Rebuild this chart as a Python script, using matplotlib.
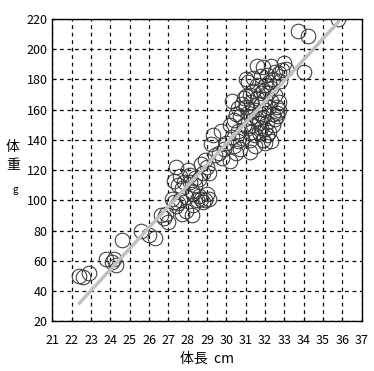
import matplotlib
matplotlib.use('Agg')
import matplotlib.pyplot as plt

plt.rcParams['font.family'] = ['Noto Sans CJK JP', 'DejaVu Sans']

# 体長 cm
length = [22.4, 22.6, 22.9, 23.8, 24.1, 24.2, 24.3, 24.6, 25.6, 26.0, 26.3,
          26.6, 26.8, 27.0, 26.9,
          27.2, 27.3, 27.4, 27.5, 27.6, 27.4, 27.3, 27.5, 27.6, 27.7, 27.7, 27.9,
          28.0, 28.1, 28.2, 28.1, 28.2, 28.3, 28.4, 28.5, 28.6, 28.7, 28.8, 28.9,
          29.0, 28.6, 28.8, 28.7, 28.9, 29.0, 29.1, 28.4, 27.9, 27.8, 28.3, 29.1,
          29.3, 29.2, 29.4, 29.7, 29.6, 29.8, 30.2, 29.9, 30.0, 30.3, 30.4, 30.5,
          30.6, 30.2, 30.3, 30.4, 30.5, 30.6, 30.7, 30.8, 30.6, 30.7,
          31.0, 31.1, 31.0, 31.0, 31.1, 31.2, 31.2, 31.3, 31.3, 31.4, 31.4, 31.5,
          31.5, 31.5, 31.6, 31.6, 31.6, 31.7, 31.7, 31.7, 31.8, 31.8, 31.8, 31.9,
          31.9, 31.9, 32.0, 32.0, 32.0, 32.0, 32.0, 32.1, 32.1, 32.1, 32.2, 32.2,
          32.3, 32.3, 32.3, 32.3, 32.4, 32.4, 32.4, 32.5, 32.5, 32.5, 32.6, 32.6,
          32.7, 32.7, 32.8, 32.9, 33.0, 33.1, 31.2, 31.3, 31.4, 31.6, 31.8, 32.1,
          32.2, 31.1, 30.9, 30.9, 31.9, 32.6, 32.7, 30.8,
          33.7, 34.2, 34.0, 35.8]
# 体重 g
weight = [50, 49, 52, 61, 59, 61, 57, 74, 80, 77, 75,
          90, 88, 86, 91,
          101, 99, 96, 98, 100, 122, 113, 110, 116, 108, 91, 93,
          120, 117, 90, 112, 106, 104, 110, 100, 103, 101, 99, 100,
          104, 114, 118, 124, 127, 122, 118, 115, 102, 112, 97, 101,
          143, 137, 130, 146, 131, 128, 126, 134, 138, 142, 136, 131,
          139, 150, 166, 153, 157, 146, 134, 141, 161, 156,
          180, 178, 169, 162, 148, 132, 140, 155, 165, 172, 150, 160,
          143, 136, 189, 176, 168, 158, 151, 145, 182, 171, 164, 188,
          155, 140, 176, 167, 160, 147, 138, 183, 171, 152, 162, 145,
          189, 174, 166, 139, 180, 157, 150, 185, 170, 154, 162, 158,
          184, 165, 179, 186, 191, 187, 170, 145, 181, 154, 148, 143,
          178, 158, 150, 168, 172, 156, 160, 164,
          212, 209, 185, 220]

# regression line
slope = 13.88
intercept = -278.9
fit_x = [22.4, 35.8]
fit_y = [slope * v + intercept for v in fit_x]

fig = plt.figure(figsize=(3.74, 3.71), dpi=100)
ax = fig.add_axes([0.14, 0.134, 0.827, 0.815])

ax.plot(length, weight, 'o', markersize=10.5, markerfacecolor='none',
        markeredgecolor='#383838', markeredgewidth=0.75)
ax.plot(fit_x, fit_y, color='#c0c0c0', linewidth=2.5)

ax.set_xlim(21, 37)
ax.set_ylim(20, 220)
ax.set_xticks(range(21, 38))
ax.set_yticks(range(20, 221, 20))
ax.grid(True, color='black', linestyle=(0, (3, 3)), linewidth=0.9)
ax.tick_params(direction='in', length=3, labelsize=9)
ax.tick_params(axis='x', pad=9)
for s in ax.spines.values():
    s.set_linewidth(1)

ax.set_xlabel('体長  cm', fontsize=10, labelpad=4)

# 縦書きの軸ラベル
fig.text(13 / 374, 1 - 147 / 371, '体', fontsize=10, ha='center', va='center')
fig.text(13 / 374, 1 - 165 / 371, '重', fontsize=10, ha='center', va='center')
fig.text(15 / 374, 1 - 190 / 371, 'g', fontsize=7, ha='center', va='center')

plt.savefig('out.png', dpi=100)
